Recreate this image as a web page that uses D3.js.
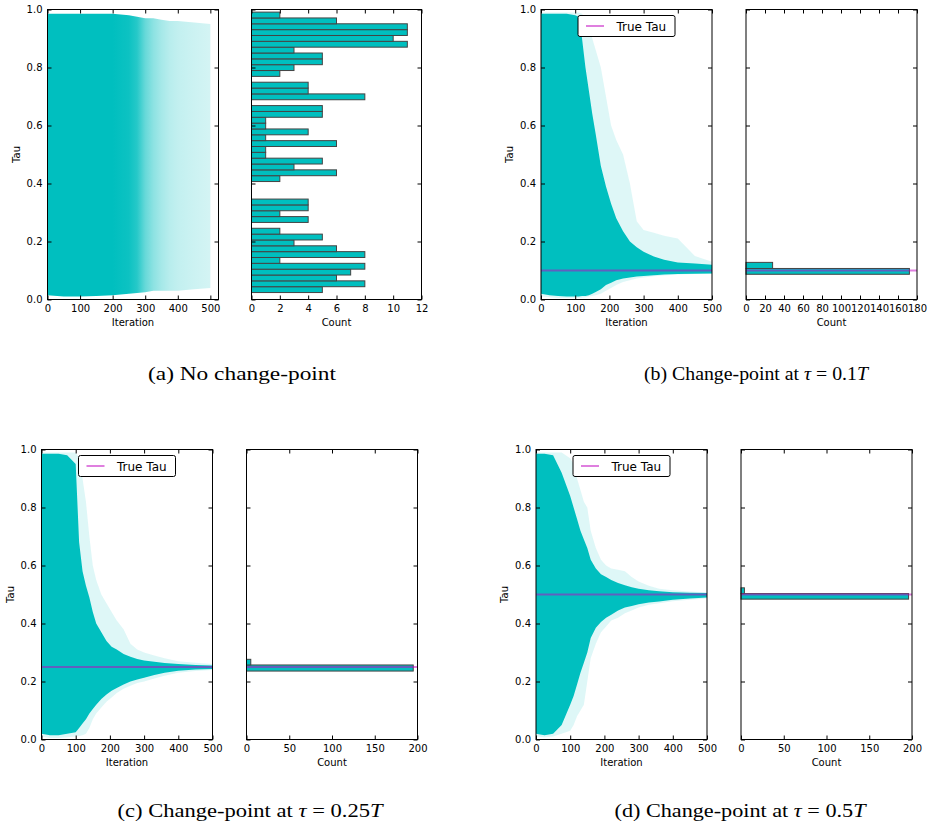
<!DOCTYPE html>
<html><head><meta charset="utf-8">
<script src="https://cdn.jsdelivr.net/npm/d3@7/dist/d3.min.js"></script>
<style>body{margin:0;background:#fff} svg{display:block}</style>
</head><body><svg id="c" width="928" height="831"></svg>
<script>
// ---------------- DATA ----------------
const iterTicks = [0, 100, 200, 300, 400, 500];
const tauTicks = [0.0, 0.2, 0.4, 0.6, 0.8, 1.0];
const countTicksA = [0, 2, 4, 6, 8, 10, 12];
const countTicksB = [0, 20, 40, 60, 80, 100, 120, 140, 160, 180];
const countTicksCD = [0, 50, 100, 150, 200];

// panel (a): trace envelope and density of chains
const iterA    = [0, 50, 100, 150, 200, 250, 275, 300, 325, 350, 375, 400, 450, 500];
const upperA   = [0.985, 0.985, 0.985, 0.985, 0.985, 0.98, 0.975, 0.97, 0.97, 0.965, 0.96, 0.96, 0.955, 0.95];
const lowerA   = [0.015, 0.01, 0.01, 0.012, 0.015, 0.02, 0.022, 0.025, 0.03, 0.03, 0.03, 0.03, 0.035, 0.04];
const densityA = [1, 1, 1, 1, 1, 0.95, 0.85, 0.6, 0.45, 0.35, 0.28, 0.24, 0.2, 0.17];

// panels (b)-(d): faint (outer) and dense (inner) envelopes of the chains
const iterGrid = [0, 25, 50, 75, 100, 110, 120, 130, 140, 150, 160, 175, 190, 205, 220, 240, 260, 280, 300, 330, 360, 400, 450, 500];
const faintUpperB = [0.99, 0.99, 0.99, 0.99, 0.99, 0.99, 0.985, 0.97, 0.95, 0.9, 0.86, 0.8, 0.7, 0.6, 0.55, 0.5, 0.4, 0.27, 0.24, 0.23, 0.22, 0.21, 0.15, 0.13];
const denseUpperB = [0.985, 0.985, 0.985, 0.985, 0.98, 0.975, 0.9, 0.8, 0.72, 0.64, 0.57, 0.46, 0.39, 0.33, 0.28, 0.235, 0.2, 0.18, 0.165, 0.148, 0.137, 0.128, 0.124, 0.12];
const denseLowerB = [0.02, 0.015, 0.012, 0.01, 0.01, 0.01, 0.012, 0.012, 0.015, 0.02, 0.026, 0.035, 0.05, 0.058, 0.066, 0.072, 0.076, 0.079, 0.081, 0.084, 0.086, 0.088, 0.089, 0.09];
const faintLowerB = [0.01, 0.008, 0.005, 0.005, 0.005, 0.005, 0.006, 0.008, 0.01, 0.012, 0.015, 0.02, 0.03, 0.04, 0.05, 0.06, 0.066, 0.072, 0.076, 0.08, 0.083, 0.086, 0.088, 0.089];

const faintUpperC = [0.99, 0.99, 0.99, 0.99, 0.99, 0.97, 0.9, 0.82, 0.7, 0.6, 0.55, 0.5, 0.47, 0.44, 0.41, 0.38, 0.33, 0.31, 0.3, 0.29, 0.28, 0.27, 0.265, 0.26];
const denseUpperC = [0.985, 0.985, 0.985, 0.98, 0.95, 0.68, 0.58, 0.53, 0.49, 0.44, 0.4, 0.37, 0.34, 0.32, 0.31, 0.295, 0.285, 0.278, 0.272, 0.268, 0.264, 0.26, 0.257, 0.255];
const denseLowerC = [0.02, 0.015, 0.015, 0.02, 0.025, 0.04, 0.055, 0.07, 0.09, 0.105, 0.12, 0.14, 0.155, 0.168, 0.178, 0.19, 0.2, 0.207, 0.213, 0.222, 0.23, 0.237, 0.241, 0.243];
const faintLowerC = [0.01, 0.005, 0.005, 0.008, 0.01, 0.012, 0.015, 0.02, 0.04, 0.07, 0.09, 0.11, 0.13, 0.145, 0.16, 0.175, 0.185, 0.195, 0.2, 0.21, 0.22, 0.23, 0.236, 0.24];

const faintUpperD = [0.99, 0.99, 0.99, 0.99, 0.97, 0.95, 0.9, 0.86, 0.82, 0.8, 0.72, 0.66, 0.62, 0.6, 0.59, 0.585, 0.58, 0.56, 0.545, 0.53, 0.52, 0.515, 0.51, 0.508];
const denseUpperD = [0.985, 0.985, 0.98, 0.92, 0.84, 0.8, 0.76, 0.72, 0.69, 0.66, 0.62, 0.59, 0.57, 0.56, 0.55, 0.54, 0.532, 0.525, 0.52, 0.515, 0.511, 0.508, 0.506, 0.505];
const denseLowerD = [0.02, 0.015, 0.02, 0.05, 0.12, 0.15, 0.19, 0.23, 0.265, 0.3, 0.35, 0.385, 0.405, 0.42, 0.43, 0.445, 0.455, 0.46, 0.466, 0.472, 0.476, 0.482, 0.486, 0.49];
const faintLowerD = [0.01, 0.008, 0.01, 0.02, 0.03, 0.05, 0.08, 0.1, 0.12, 0.2, 0.28, 0.33, 0.37, 0.39, 0.41, 0.42, 0.435, 0.445, 0.455, 0.465, 0.47, 0.477, 0.482, 0.486];

// histograms of final tau (counts)
const histACounts = [5, 8, 6, 7, 8, 2, 8, 6, 3, 5, 2, 0, 4, 2, 4, 4, 0, 0, 0, 2, 6, 3, 5, 1, 1, 6, 1, 4, 1, 1, 5, 5, 0, 8, 4, 4, 0, 2, 3, 5, 5, 3, 11, 10, 11, 11, 6, 2];
const histARange = [0.024, 0.991];
const histBEdges = [0.087, 0.107, 0.128];
const histBCounts = [172, 28];
const histCEdges = [0.236, 0.257, 0.2765];
const histCCounts = [195, 5];
const histDEdges = [0.484, 0.503, 0.523];
const histDCounts = [196, 4];

const trueTaus = [null, 0.1, 0.25, 0.5];
const captionLetters = ["(a)", "(b)", "(c)", "(d)"];
const captionTaus = [null, "0.1", "0.25", "0.5"];

// ---------------- DRAW ----------------
const CYAN = "#00BFBF", MAG = "#BF00BF";
const svg = d3.select("#c");
svg.append("rect").attr("width", 928).attr("height", 831).attr("fill", "#fff");
const defs = svg.append("defs");

const W = 171, H = 290;
const panels = [
  {tx: 47.5, hx: 251.5, y0: 9.5, xmax: 525, hw: 170, countTicks: countTicksA, cmax: 12,
   hist: {edges: d3.range(histACounts.length + 1).map(i => histARange[0] + i * (histARange[1] - histARange[0]) / histACounts.length), counts: histACounts}},
  {tx: 541, hx: 746, y0: 9.5, xmax: 500, hw: 171, countTicks: countTicksB, cmax: 180,
   env: [faintUpperB, denseUpperB, denseLowerB, faintLowerB], hist: {edges: histBEdges, counts: histBCounts}},
  {tx: 41.5, hx: 246.5, y0: 449.5, xmax: 500, hw: 171, countTicks: countTicksCD, cmax: 200,
   env: [faintUpperC, denseUpperC, denseLowerC, faintLowerC], hist: {edges: histCEdges, counts: histCCounts}},
  {tx: 536, hx: 741, y0: 449.5, xmax: 500, hw: 171, countTicks: countTicksCD, cmax: 200,
   env: [faintUpperD, denseUpperD, denseLowerD, faintLowerD], hist: {edges: histDEdges, counts: histDCounts}}
];

function styleAxis(g) {
  g.select(".domain").remove();
  g.selectAll("line").attr("stroke", "#000").attr("stroke-width", 1);
  g.selectAll("text").attr("font-family", "DejaVu Sans, sans-serif").attr("font-size", 10).attr("fill", "#000");
}

function frameAxes(g, x, y, x0, x1, y0, y1, xTicks, yLabels, xLabel, yLabel) {
  g.append("g").attr("transform", `translate(0,${y1})`)
    .call(d3.axisBottom(x).tickValues(xTicks).tickSize(-4).tickPadding(5).tickFormat(d3.format("d"))).call(styleAxis);
  g.append("g").attr("transform", `translate(0,${y0})`)
    .call(d3.axisTop(x).tickValues(xTicks).tickSize(-4).tickFormat("")).call(styleAxis);
  g.append("g").attr("transform", `translate(${x0},0)`)
    .call(d3.axisLeft(y).tickValues(tauTicks).tickSize(-4).tickPadding(5).tickFormat(yLabels ? d3.format(".1f") : "")).call(styleAxis);
  g.append("g").attr("transform", `translate(${x1},0)`)
    .call(d3.axisRight(y).tickValues(tauTicks).tickSize(-4).tickFormat("")).call(styleAxis);
  g.append("rect").attr("x", x0).attr("y", y0).attr("width", x1 - x0).attr("height", y1 - y0)
    .attr("fill", "none").attr("stroke", "#000").attr("stroke-width", 1);
  g.append("text").attr("x", (x0 + x1) / 2).attr("y", y1 + 26).attr("text-anchor", "middle")
    .attr("font-family", "DejaVu Sans, sans-serif").attr("font-size", 10).text(xLabel);
  if (yLabel) {
    g.append("text").attr("transform", `translate(${x0 - 28},${(y0 + y1) / 2}) rotate(-90)`)
      .attr("text-anchor", "middle").attr("font-family", "DejaVu Sans, sans-serif").attr("font-size", 10).text(yLabel);
  }
}

panels.forEach((p, k) => {
  const g = svg.append("g");
  const y0 = p.y0, y1 = p.y0 + H;
  const x = d3.scaleLinear().domain([0, p.xmax]).range([p.tx, p.tx + W]);
  const y = d3.scaleLinear().domain([0, 1]).range([y1, y0]);
  const clipId = "clip" + k;
  defs.append("clipPath").attr("id", clipId).append("rect").attr("x", p.tx).attr("y", y0).attr("width", W).attr("height", H);
  const tg = g.append("g").attr("clip-path", `url(#${clipId})`);

  if (k === 0) {
    const gid = "gradA";
    const grad = defs.append("linearGradient").attr("id", gid).attr("x1", 0).attr("x2", 1).attr("y1", 0).attr("y2", 0);
    iterA.forEach((it, i) => grad.append("stop").attr("offset", it / 500).attr("stop-color", CYAN).attr("stop-opacity", densityA[i]));
    const data = iterA.map((it, i) => ({i: it, hi: upperA[i], lo: lowerA[i]}));
    tg.append("path").datum(data).attr("fill", `url(#${gid})`)
      .attr("d", d3.area().x(d => x(d.i)).y0(d => y(d.lo)).y1(d => y(d.hi)));
  } else {
    const [fu, du, dl, fl] = p.env;
    const area = d3.area().x(d => x(d.i)).y0(d => y(d.lo)).y1(d => y(d.hi));
    const faint = iterGrid.map((it, i) => ({i: it, hi: fu[i], lo: fl[i]}));
    const dense = iterGrid.map((it, i) => ({i: it, hi: du[i], lo: dl[i]}));
    tg.append("path").datum(faint).attr("fill", CYAN).attr("fill-opacity", 0.13).attr("d", area);
    tg.append("path").datum(dense).attr("fill", CYAN).attr("d", area);
  }

  // histogram
  const hx = d3.scaleLinear().domain([0, p.cmax]).range([p.hx, p.hx + p.hw]);
  const hg = g.append("g");
  p.hist.counts.forEach((c, i) => {
    if (c <= 0) return;
    hg.append("rect").attr("x", hx(0)).attr("y", y(p.hist.edges[i + 1]))
      .attr("width", hx(c) - hx(0)).attr("height", y(p.hist.edges[i]) - y(p.hist.edges[i + 1]))
      .attr("fill", CYAN).attr("stroke", "#444").attr("stroke-width", 1);
  });

  // true tau line
  if (trueTaus[k] != null) {
    g.append("line").attr("x1", p.tx).attr("x2", p.tx + W).attr("y1", y(trueTaus[k])).attr("y2", y(trueTaus[k]))
      .attr("stroke", MAG).attr("stroke-opacity", 0.5).attr("stroke-width", 2);
    g.append("line").attr("x1", p.hx).attr("x2", p.hx + p.hw).attr("y1", y(trueTaus[k])).attr("y2", y(trueTaus[k]))
      .attr("stroke", MAG).attr("stroke-opacity", 0.5).attr("stroke-width", 2);
  }

  frameAxes(g, x, y, p.tx, p.tx + W, y0, y1, iterTicks, true, "Iteration", "Tau");
  frameAxes(g, hx, y, p.hx, p.hx + p.hw, y0, y1, p.countTicks, false, "Count", null);

  // legend
  if (trueTaus[k] != null) {
    const lx = p.tx + 37, ly = y0 + 6;
    g.append("rect").attr("x", lx).attr("y", ly).attr("width", 97).attr("height", 21).attr("rx", 2)
      .attr("fill", "#fff").attr("stroke", "#000").attr("stroke-width", 1);
    g.append("line").attr("x1", lx + 8).attr("x2", lx + 26).attr("y1", ly + 10.5).attr("y2", ly + 10.5)
      .attr("stroke", MAG).attr("stroke-opacity", 0.5).attr("stroke-width", 2);
    g.append("text").attr("x", lx + 38.5).attr("y", ly + 15).attr("font-family", "DejaVu Sans, sans-serif")
      .attr("font-size", 12).text("True Tau");
  }
});

// captions
const capPos = [[242, 380, 188], [756, 380, 224], [250, 817, 265], [740, 817, 251]];
capPos.forEach((c, k) => {
  const t = svg.append("text").attr("x", c[0]).attr("y", c[1]).attr("text-anchor", "middle")
    .attr("font-family", "Liberation Serif, serif").attr("font-size", 19).attr("fill", "#000")
    .attr("textLength", c[2]).attr("lengthAdjust", "spacingAndGlyphs");
  if (captionTaus[k] == null) {
    t.text(captionLetters[k] + " No change-point");
  } else {
    t.append("tspan").text(captionLetters[k] + " Change-point at ");
    t.append("tspan").attr("font-style", "italic").text("\u03C4");
    t.append("tspan").text(" = " + captionTaus[k]);
    t.append("tspan").attr("font-style", "italic").text("T");
  }
});
</script></body></html>
